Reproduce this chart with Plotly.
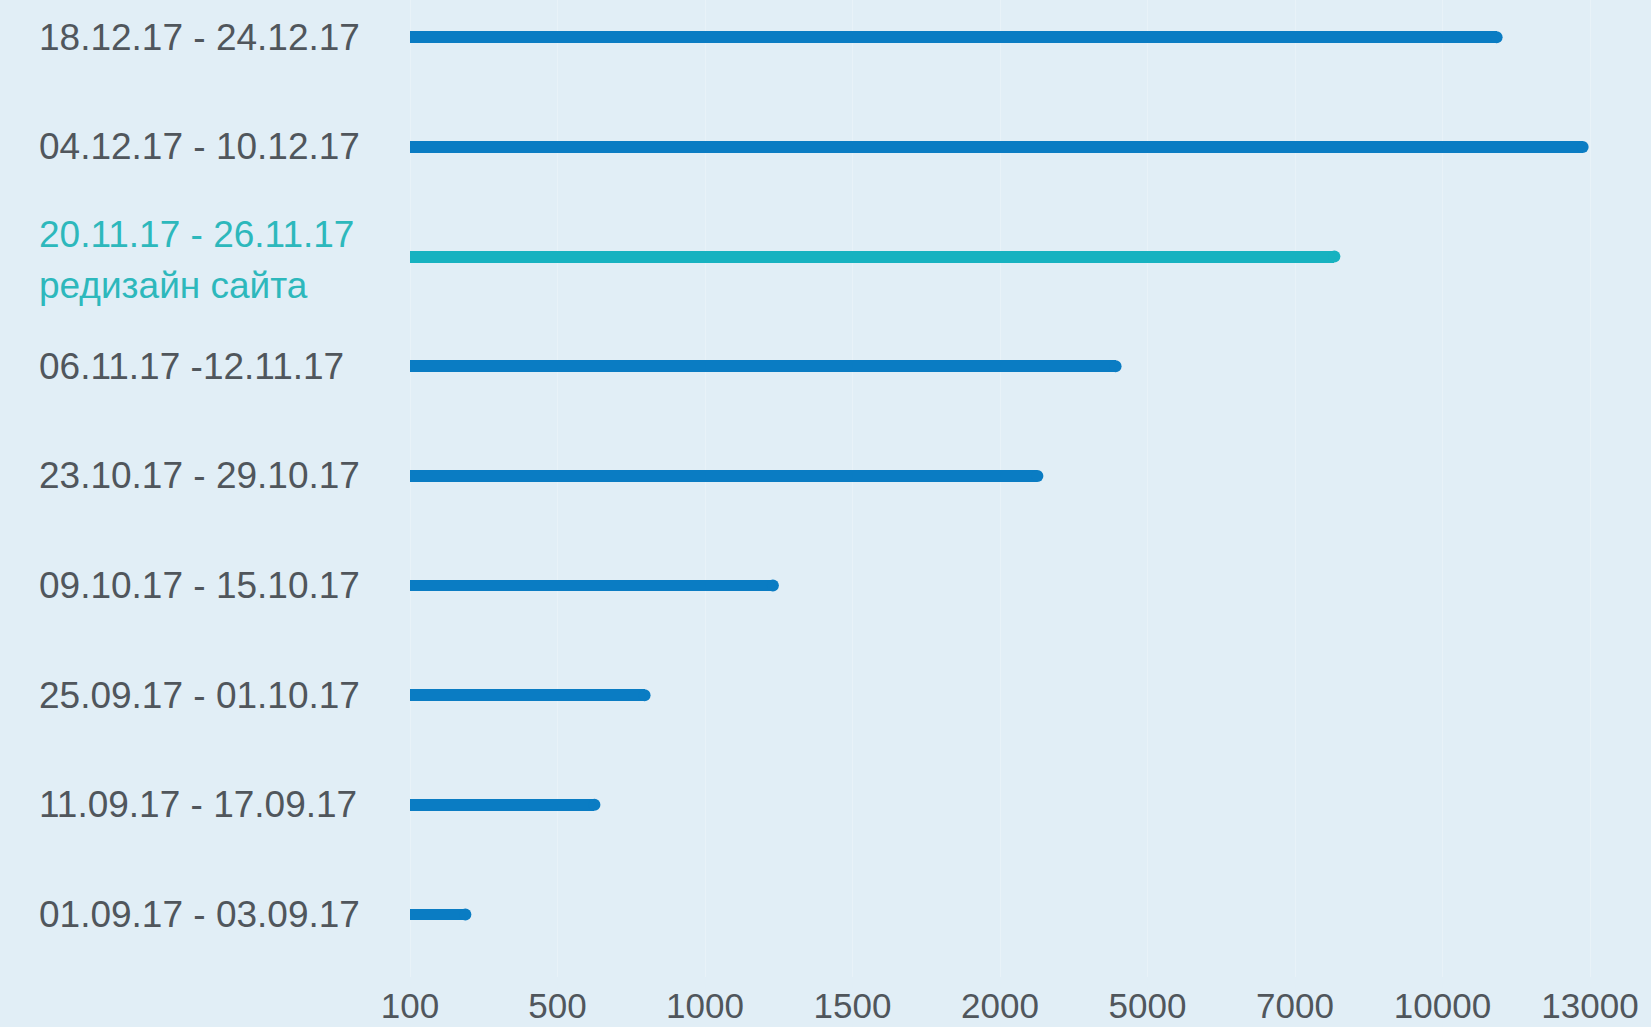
import numpy as np
import plotly.graph_objects as go

# ---- data (bottom to top) ----
weeks = [
    "01.09.17 - 03.09.17",
    "11.09.17 - 17.09.17",
    "25.09.17 - 01.10.17",
    "09.10.17 - 15.10.17",
    "23.10.17 - 29.10.17",
    "06.11.17 -12.11.17",
    "20.11.17 - 26.11.17",
    "04.12.17 - 10.12.17",
    "18.12.17 - 24.12.17",
]
visits = [250, 625, 795, 1230, 2760, 4350, 7800, 12850, 11100]
notes = ["", "", "", "", "", "", "редизайн сайта", "", ""]
highlight = [False, False, False, False, False, False, True, False, False]

tick_values = [100, 500, 1000, 1500, 2000, 5000, 7000, 10000, 13000]
tick_labels = ["100", "500", "1000", "1500", "2000", "5000", "7000", "10000", "13000"]

# ---- styling ----
BG = "#E1EEF6"
BAR = "#0A7CC3"
TEAL = "#17B2C0"
TEXT = "#50565C"
TEXT_TEAL = "#2DB8BC"
FONT = "Liberation Sans, Arial, Helvetica, sans-serif"

# piecewise scale: equally spaced ticks
tick_pos = list(range(len(tick_values)))
pos = np.interp(visits, tick_values, tick_pos)
base_pos = np.interp(tick_values[0], tick_values, tick_pos)
colors = [TEAL if h else BAR for h in highlight]
ypos = list(range(len(weeks)))

fig = go.Figure()
fig.add_trace(go.Bar(
    y=ypos, x=pos - base_pos, base=base_pos, orientation="h",
    marker=dict(color=colors, line=dict(width=0)),
    width=0.108, hoverinfo="skip", showlegend=False,
))
fig.add_trace(go.Scatter(
    y=ypos, x=pos, mode="markers",
    marker=dict(color=colors, size=12, line=dict(width=0)),
    hoverinfo="skip", showlegend=False,
))

W, H = 1651, 1027
ml, mr, mt, mb = 395, 30, 0, 50
pw = W - ml - mr

for i, (w, n, h) in enumerate(zip(weeks, notes, highlight)):
    col = TEXT_TEAL if h else TEXT
    if n:
        fig.add_annotation(
            x=-(ml - 37) / pw, xref="paper", y=i, yref="y", yshift=22,
            text=w, showarrow=False, xanchor="left", yanchor="middle",
            font=dict(family=FONT, size=37, color=col),
        )
        fig.add_annotation(
            x=-(ml - 37) / pw, xref="paper", y=i, yref="y", yshift=-29,
            text=n, showarrow=False, xanchor="left", yanchor="middle",
            font=dict(family=FONT, size=37, color=col),
        )
    else:
        fig.add_annotation(
            x=-(ml - 37) / pw, xref="paper", y=i, yref="y",
            text=w, showarrow=False, xanchor="left", yanchor="middle",
            font=dict(family=FONT, size=37, color=col),
        )

fig.update_layout(
    width=W, height=H,
    margin=dict(l=ml, r=mr, t=mt, b=mb),
    paper_bgcolor=BG, plot_bgcolor=BG,
    font=dict(family=FONT, size=36, color=TEXT),
    bargap=0,
)
fig.update_xaxes(
    range=[-0.102, 8.21],
    tickmode="array", tickvals=tick_pos, ticktext=tick_labels,
    tickfont=dict(family=FONT, size=35, color=TEXT),
    showgrid=True, gridcolor="rgba(255,255,255,0.25)", gridwidth=1,
    zeroline=False, showline=False, ticks="", ticklabelstandoff=5,
)
fig.update_yaxes(
    range=[-0.57, 8.34], showticklabels=False, showgrid=False,
    zeroline=False, showline=False, ticks="",
)

fig.write_html(
    "out.html",
    config={"displayModeBar": False},
    post_script="document.body.style.margin='0';document.body.style.background='" + BG + "';",
)
